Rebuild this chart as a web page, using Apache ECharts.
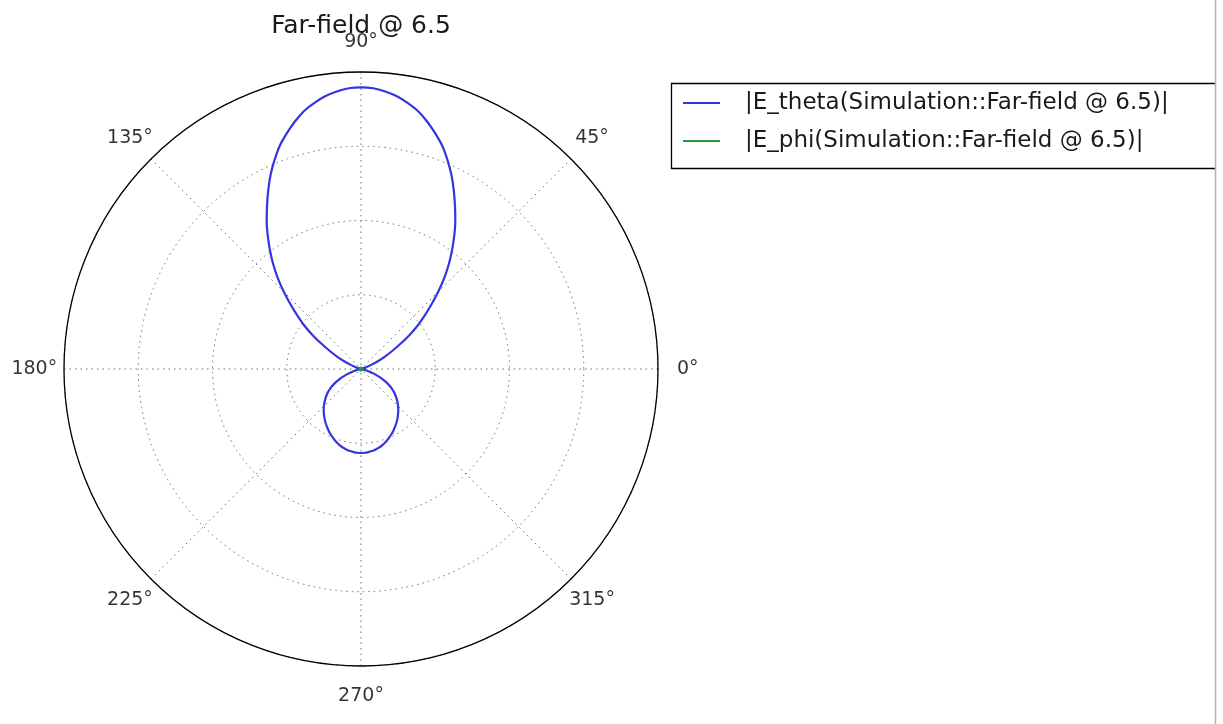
<!DOCTYPE html>
<html>
<head>
<meta charset="utf-8">
<title>Far-field @ 6.5</title>
<script src="https://cdn.jsdelivr.net/npm/echarts@6/dist/echarts.min.js"></script>
<style>
  html, body { margin: 0; padding: 0; background: #fff; }
  #chart { width: 1223px; height: 724px; }
</style>
</head>
<body>
<div id="chart"></div>
<script>
// Sample angles in degrees (counter-clockwise from 0°), 2.5° apart
const angles = [
  0, 2.5, 5, 7.5, 10, 12.5, 15, 17.5, 20, 22.5, 25, 27.5,
  30, 32.5, 35, 37.5, 40, 42.5, 45, 47.5, 50, 52.5, 55, 57.5,
  60, 62.5, 65, 67.5, 70, 72.5, 75, 77.5, 80, 82.5, 85, 87.5,
  90, 92.5, 95, 97.5, 100, 102.5, 105, 107.5, 110, 112.5, 115, 117.5,
  120, 122.5, 125, 127.5, 130, 132.5, 135, 137.5, 140, 142.5, 145, 147.5,
  150, 152.5, 155, 157.5, 160, 162.5, 165, 167.5, 170, 172.5, 175, 177.5,
  180, 182.5, 185, 187.5, 190, 192.5, 195, 197.5, 200, 202.5, 205, 207.5,
  210, 212.5, 215, 217.5, 220, 222.5, 225, 227.5, 230, 232.5, 235, 237.5,
  240, 242.5, 245, 247.5, 250, 252.5, 255, 257.5, 260, 262.5, 265, 267.5,
  270, 272.5, 275, 277.5, 280, 282.5, 285, 287.5, 290, 292.5, 295, 297.5,
  300, 302.5, 305, 307.5, 310, 312.5, 315, 317.5, 320, 322.5, 325, 327.5,
  330, 332.5, 335, 337.5, 340, 342.5, 345, 347.5, 350, 352.5, 355, 357.5,
  360
];

// |E_theta| magnitude at each angle
const eTheta = [
  0, 0, 0, 0, 0, 0, 0, 0.027, 0.081, 0.162, 0.256, 0.364,
  0.485, 0.626, 0.795, 0.963, 1.118, 1.286, 1.468, 1.657, 1.838, 2.013, 2.189, 2.364,
  2.532, 2.707, 2.882, 3.044, 3.199, 3.327, 3.448, 3.556, 3.636, 3.704, 3.751, 3.785,
  3.794, 3.785, 3.751, 3.704, 3.636, 3.556, 3.448, 3.327, 3.199, 3.044, 2.882, 2.707,
  2.532, 2.364, 2.189, 2.013, 1.838, 1.657, 1.468, 1.286, 1.118, 0.963, 0.795, 0.626,
  0.485, 0.364, 0.256, 0.162, 0.081, 0.027, 0, 0, 0, 0, 0, 0,
  0, 0, 0, 0, 0, 0.027, 0.067, 0.121, 0.182, 0.249, 0.314, 0.377,
  0.438, 0.492, 0.543, 0.586, 0.628, 0.668, 0.707, 0.743, 0.778, 0.812, 0.846, 0.878,
  0.909, 0.940, 0.970, 0.997, 1.024, 1.048, 1.071, 1.088, 1.104, 1.115, 1.123, 1.129,
  1.131, 1.129, 1.123, 1.115, 1.104, 1.088, 1.071, 1.048, 1.024, 0.997, 0.970, 0.940,
  0.909, 0.878, 0.846, 0.812, 0.778, 0.743, 0.707, 0.668, 0.628, 0.586, 0.543, 0.492,
  0.438, 0.377, 0.314, 0.249, 0.182, 0.121, 0.067, 0.027, 0, 0, 0, 0,
  0
];

// |E_phi| is essentially zero all the way round
const phiAngles = [0, 30, 60, 90, 120, 150, 180, 210, 240, 270, 300, 330, 360];
const ePhi = [0.02, 0.02, 0.02, 0.02, 0.02, 0.02, 0.02, 0.02, 0.02, 0.02, 0.02, 0.02, 0.02];

// Angular tick positions and their labels
const angleTicks = [0, 45, 90, 135, 180, 225, 270, 315];
const angleTickLabels = ['0°', '45°', '90°', '135°', '180°', '225°', '270°', '315°'];

const seriesNames = [
  '|E_theta(Simulation::Far-field @ 6.5)|',
  '|E_phi(Simulation::Far-field @ 6.5)|'
];

const FONT = 'DejaVu Sans';
const R_MAX = 4;
const LABEL_RADIUS = 4.4;   // tick labels sit just outside the outer ring, centred

const chart = echarts.init(document.getElementById('chart'), null, { renderer: 'canvas' });

chart.setOption({
  backgroundColor: '#ffffff',
  animation: false,
  title: {
    text: 'Far-field @ 6.5',
    left: 356,
    top: 9,
    textAlign: 'center',
    textStyle: { fontFamily: FONT, fontSize: 25, fontWeight: 'normal', color: '#1a1a1a' }
  },
  legend: {
    orient: 'vertical',
    left: 683,
    top: 90,
    padding: 0,
    itemGap: 12,
    itemWidth: 37,
    itemHeight: 2,
    icon: 'rect',
    data: seriesNames,
    textStyle: {
      fontFamily: FONT, fontSize: 23, color: '#1a1a1a',
      lineHeight: 26, padding: [0, 0, 0, 20]
    }
  },
  polar: {
    center: [361, 369],
    radius: 297
  },
  angleAxis: {
    type: 'value',
    min: 0,
    max: 360,
    interval: 45,
    startAngle: 0,
    clockwise: false,
    axisLine: { show: true, lineStyle: { color: '#000', width: 1.3 } },
    axisTick: { show: false },
    axisLabel: { show: false },
    splitLine: { show: true, lineStyle: { color: '#707070', width: 1, type: [1.5, 4] } }
  },
  radiusAxis: {
    type: 'value',
    min: 0,
    max: R_MAX,
    interval: 1,
    axisLine: { show: false },
    axisTick: { show: false },
    axisLabel: { show: false },
    splitLine: { show: true, lineStyle: { color: '#707070', width: 1, type: [1.5, 4] } }
  },
  graphic: [
    {
      type: 'polyline',
      shape: { points: [[1215, 83.5], [671.5, 83.5], [671.5, 168.5], [1215, 168.5]] },
      style: { stroke: '#000', lineWidth: 1.3, fill: null },
      z: 10
    },
    {
      type: 'line',
      shape: { x1: 1215.5, y1: 0, x2: 1215.5, y2: 724 },
      style: { stroke: '#b4b4b4', lineWidth: 1.5 },
      z: 10
    }
  ],
  series: [
    {
      name: seriesNames[0],
      type: 'line',
      coordinateSystem: 'polar',
      data: eTheta.map((r, i) => [r, angles[i]]),
      smooth: 0.3,
      showSymbol: false,
      lineStyle: { color: '#3535e0', width: 2.2 },
      itemStyle: { color: '#3535e0' }
    },
    {
      name: seriesNames[1],
      type: 'line',
      coordinateSystem: 'polar',
      data: ePhi.map((r, i) => [r, phiAngles[i]]),
      smooth: true,
      showSymbol: false,
      lineStyle: { color: '#2a9a3a', width: 2.2 },
      itemStyle: { color: '#2a9a3a' }
    },
    {
      // centred angular tick labels around the outer ring
      name: 'angle-labels',
      type: 'scatter',
      coordinateSystem: 'polar',
      clip: false,
      silent: true,
      symbolSize: 0,
      data: angleTicks.map((a) => [LABEL_RADIUS, a]),
      label: {
        show: true,
        position: 'inside',
        align: 'center',
        verticalAlign: 'middle',
        fontFamily: FONT,
        fontSize: 19,
        color: '#000',
        formatter: (p) => angleTickLabels[p.dataIndex]
      }
    }
  ]
});
</script>
</body>
</html>
